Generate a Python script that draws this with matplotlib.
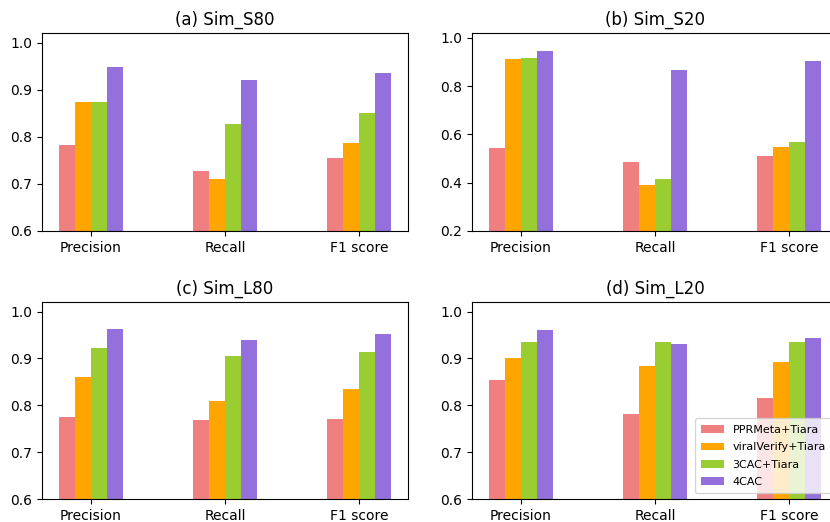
# Grouped bar charts for the four simulated datasets
import numpy as np
import matplotlib.pyplot as plt

# Data
metrics = ['Precision', 'Recall', 'F1 score']
methods = ['PPRMeta+Tiara', 'viralVerify+Tiara', '3CAC+Tiara', '4CAC']
colors = ['lightcoral', 'orange', 'yellowgreen', 'mediumpurple']
titles = ['(a) Sim_S80', '(b) Sim_S20', '(c) Sim_L80', '(d) Sim_L20']

sim_s80 = [[0.782, 0.727, 0.754],
           [0.874, 0.711, 0.786],
           [0.874, 0.828, 0.850],
           [0.949, 0.921, 0.935]]
sim_s20 = [[0.544, 0.484, 0.512],
           [0.913, 0.390, 0.548],
           [0.917, 0.414, 0.570],
           [0.945, 0.866, 0.906]]
sim_l80 = [[0.775, 0.769, 0.771],
           [0.860, 0.809, 0.834],
           [0.922, 0.906, 0.914],
           [0.962, 0.940, 0.953]]
sim_l20 = [[0.854, 0.782, 0.816],
           [0.900, 0.884, 0.892],
           [0.936, 0.936, 0.936],
           [0.960, 0.930, 0.943]]

datasets = [sim_s80, sim_s20, sim_l80, sim_l20]
y_bottoms = [0.6, 0.2, 0.6, 0.6]

fig = plt.figure(figsize=(8.3, 5.22), dpi=100)
# axes placed by hand, right column runs slightly past the figure edge like the original
positions = [[0.0506, 0.5575, 0.441, 0.379],
             [0.5687, 0.5575, 0.441, 0.379],
             [0.0506, 0.044, 0.441, 0.377],
             [0.5687, 0.044, 0.441, 0.377]]

x = np.arange(len(metrics))
width = 0.12

for k in range(4):
    ax = fig.add_axes(positions[k])
    data = datasets[k]
    for i in range(len(methods)):
        ax.bar(x + (i - 1.5) * width, data[i], width, color=colors[i], label=methods[i])
    ax.set_xticks(x)
    ax.set_xticklabels(metrics)
    ax.set_ylim(y_bottoms[k], 1.02)
    ax.set_title(titles[k], fontsize=12)
    if k == 3:
        ax.legend(loc='lower right', fontsize=8, labelspacing=0.65, borderpad=0.6)

plt.savefig('out.png')
